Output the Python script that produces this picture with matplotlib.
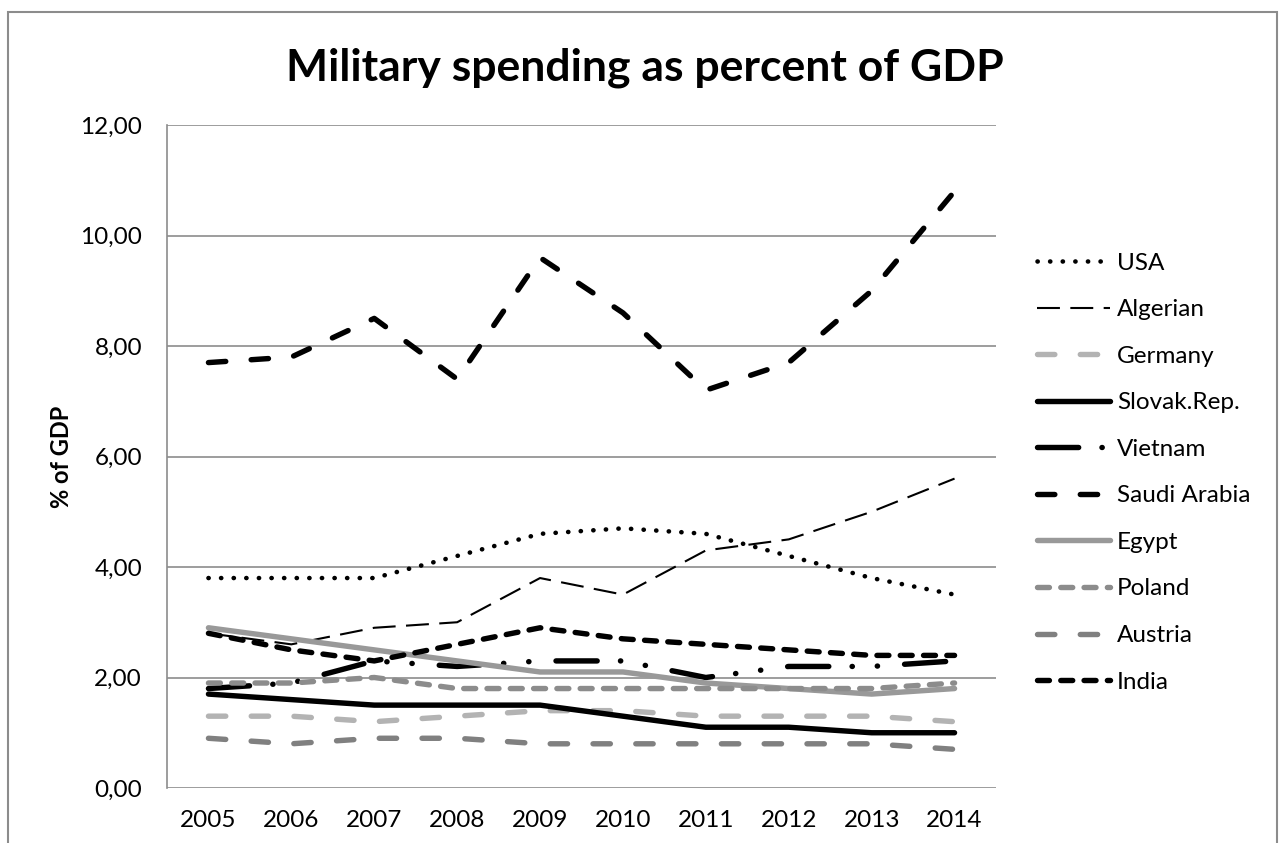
import numpy as np
import matplotlib.pyplot as plt
from matplotlib.patches import Rectangle
from matplotlib.ticker import FuncFormatter

plt.rcParams['font.family'] = ['Lato', 'DejaVu Sans']

# Data (% of GDP)
years = ['2005', '2006', '2007', '2008', '2009', '2010', '2011', '2012', '2013', '2014']
usa = [3.8, 3.8, 3.8, 4.2, 4.6, 4.7, 4.6, 4.2, 3.8, 3.5]
algerian = [2.8, 2.6, 2.9, 3.0, 3.8, 3.5, 4.3, 4.5, 5.0, 5.6]
germany = [1.3, 1.3, 1.2, 1.3, 1.4, 1.4, 1.3, 1.3, 1.3, 1.2]
slovak = [1.7, 1.6, 1.5, 1.5, 1.5, 1.3, 1.1, 1.1, 1.0, 1.0]
vietnam = [1.8, 1.9, 2.3, 2.2, 2.3, 2.3, 2.0, 2.2, 2.2, 2.3]
saudi = [7.7, 7.8, 8.5, 7.4, 9.6, 8.6, 7.2, 7.7, 9.0, 10.8]
egypt = [2.9, 2.7, 2.5, 2.3, 2.1, 2.1, 1.9, 1.8, 1.7, 1.8]
poland = [1.9, 1.9, 2.0, 1.8, 1.8, 1.8, 1.8, 1.8, 1.8, 1.9]
austria = [0.9, 0.8, 0.9, 0.9, 0.8, 0.8, 0.8, 0.8, 0.8, 0.7]
india = [2.8, 2.5, 2.3, 2.6, 2.9, 2.7, 2.6, 2.5, 2.4, 2.4]

labels = ['USA', 'Algerian', 'Germany', 'Slovak.Rep.', 'Vietnam',
          'Saudi Arabia', 'Egypt', 'Poland', 'Austria', 'India']
series = [usa, algerian, germany, slovak, vietnam, saudi, egypt, poland, austria, india]

# line styles: (color, width, dash pattern, capstyle)
styles = [
    ('black', 3.3, (0, (0.05, 2.7)), 'round'),
    ('black', 1.5, (0, (11, 5)), 'butt'),
    ('#b3b3b3', 3.9, (0, (3.2, 4.7)), 'round'),
    ('black', 3.9, None, 'round'),
    ('black', 3.9, (0, (7.6, 4.3, 0.05, 4.6, 0.05, 5.0)), 'round'),
    ('black', 3.9, (0, (3.2, 4.7)), 'round'),
    ('#999999', 3.9, None, 'round'),
    ('#8c8c8c', 3.9, (0, (2.2, 2.1)), 'round'),
    ('#808080', 3.9, (0, (3.2, 4.7)), 'round'),
    ('black', 3.9, (0, (2.2, 2.1)), 'round'),
]

fig = plt.figure(figsize=(12.79, 8.43), dpi=100, facecolor='white')
ax = fig.add_axes([167/1279, 1 - 788/843, (996-167)/1279, (788-125)/843])

for vals, lab, (c, lw, ls, cap) in zip(series, labels, styles):
    line, = ax.plot(years, vals, color=c, lw=lw, label=lab,
                    solid_capstyle=cap, dash_capstyle=cap, solid_joinstyle='round')
    if ls is not None:
        line.set_linestyle(ls)

ax.set_xlim(-0.5, 9.5)
ax.set_ylim(0, 12)
ax.set_yticks(np.arange(0, 13, 2))
ax.yaxis.set_major_formatter(FuncFormatter(lambda v, p: f'{v:.2f}'.replace('.', ',')))
ax.grid(axis='y', color='#8c8c8c', lw=1.2)
ax.set_axisbelow(True)
for s in ['top', 'right', 'bottom']:
    ax.spines[s].set_visible(False)
ax.spines['left'].set_color('#8c8c8c')
ax.spines['left'].set_linewidth(1.2)
ax.tick_params(axis='both', length=0, labelsize=17.5, colors='black')
ax.tick_params(axis='y', pad=18)
ax.tick_params(axis='x', pad=16)

ax.set_ylabel('% of GDP', fontsize=17, fontweight='bold', labelpad=5)
fig.text(645/1279, 1 - 68/843, 'Military spending as percent of GDP',
         fontsize=32, fontweight='bold', ha='center', va='center')

leg = ax.legend(loc='upper left', bbox_to_anchor=(1027/1279, 1 - 243/843),
                bbox_transform=fig.transFigure, frameon=False, fontsize=17.5,
                handlelength=3.0, handletextpad=0.3, labelspacing=1.05,
                borderaxespad=0)

# outer chart border
fig.add_artist(Rectangle((8/1279, -0.1), (1277-8)/1279, 1 - 12/843 + 0.1,
                         transform=fig.transFigure, fill=False,
                         edgecolor='#8c8c8c', lw=1.5))

fig.savefig('out.png', dpi=100, facecolor='white')
